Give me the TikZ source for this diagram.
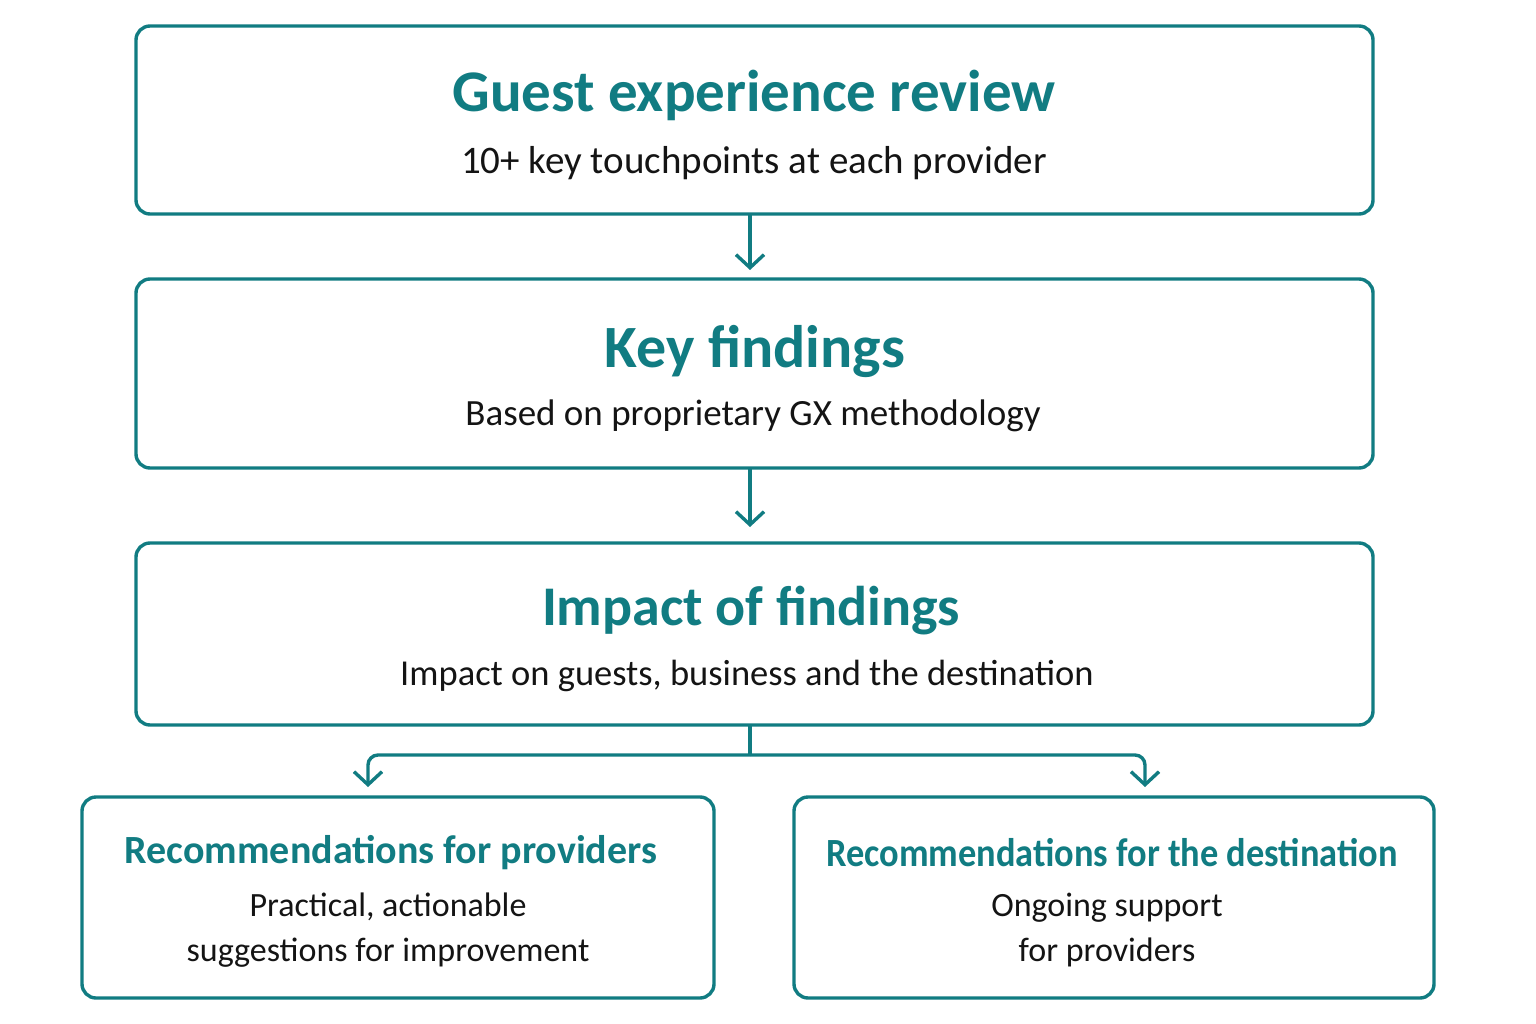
\documentclass[tikz,border=0pt]{standalone}
\usepackage{fontspec}
\setmainfont{Carlito}
\usetikzlibrary{arrows.meta}
\definecolor{teal1}{HTML}{117C82}
\definecolor{txt}{HTML}{141414}
\begin{document}
\begin{tikzpicture}[x=1pt,y=-1pt,
  box/.style={draw=teal1,line width=3.4pt,rounded corners=14pt},
  ttl/.style={text=teal1,font=\bfseries,inner sep=0pt},
  sttl/.style={text=teal1,font=\fontsize{40}{46}\selectfont\bfseries,inner sep=0pt},
  sub/.style={text=txt,font=\fontsize{34}{45}\selectfont,inner sep=0pt,align=center},
  conn/.style={draw=teal1,line width=3.4pt,-{Straight Barb[length=13pt,width=28pt,line width=3.4pt]}},
  line/.style={draw=teal1,line width=3.4pt}]
\useasboundingbox (0,0) rectangle (1536,1024);
\fill[white] (0,0) rectangle (1536,1024);
% boxes
\draw[box] (136,26) rectangle (1373,214);
\coordinate (b1s) at (750,214);
\draw[box] (136,279) rectangle (1373,468);
\coordinate (b2s) at (750,468);
\draw[box] (136,543) rectangle (1373,725);
\coordinate (b3s) at (750,725);
\draw[box] (82,797) rectangle (714,998);
\draw[box] (794,797) rectangle (1434,998);
% texts
\node[ttl,font=\fontsize{59}{64}\selectfont\bfseries] (t1) at (754,95) {Guest experience review};
\node[sub,font=\fontsize{39}{45}\selectfont] (s1) at (754,163) {10+ key touchpoints at each provider};
\node[ttl,font=\fontsize{60}{64}\selectfont\bfseries] (t2) at (755,351) {Key findings};
\node[sub,font=\fontsize{37}{45}\selectfont] (s2) at (753,416) {Based on proprietary GX methodology};
\node[ttl,font=\fontsize{56}{64}\selectfont\bfseries] (t3) at (751,611) {Impact of findings};
\node[sub,font=\fontsize{36.5}{45}\selectfont] (s3) at (747,676) {Impact on guests, business and the destination};
\node[sttl] (t4) at (391,853) {Recommendations for providers};
\node[sub] (s4) at (388,930) {Practical, actionable\\suggestions for improvement};
\node[sttl,xscale=0.91] (t5) at (1112,853) {Recommendations for the destination};
\node[sub] (s5) at (1107,930) {Ongoing support\\for providers};
% connectors
\coordinate (a1) at (750,270);
\coordinate (a2) at (750,527);
\coordinate (j) at (750,755);
\coordinate (l4) at (368,787);
\coordinate (l5) at (1145,787);
\draw[conn] (b1s) -- (a1);
\draw[conn] (b2s) -- (a2);
\draw[line] (b3s) -- (j);
\draw[conn,rounded corners=10pt] (j) -| (l4);
\draw[conn,rounded corners=10pt] (j) -| (l5);
\end{tikzpicture}
\end{document}
